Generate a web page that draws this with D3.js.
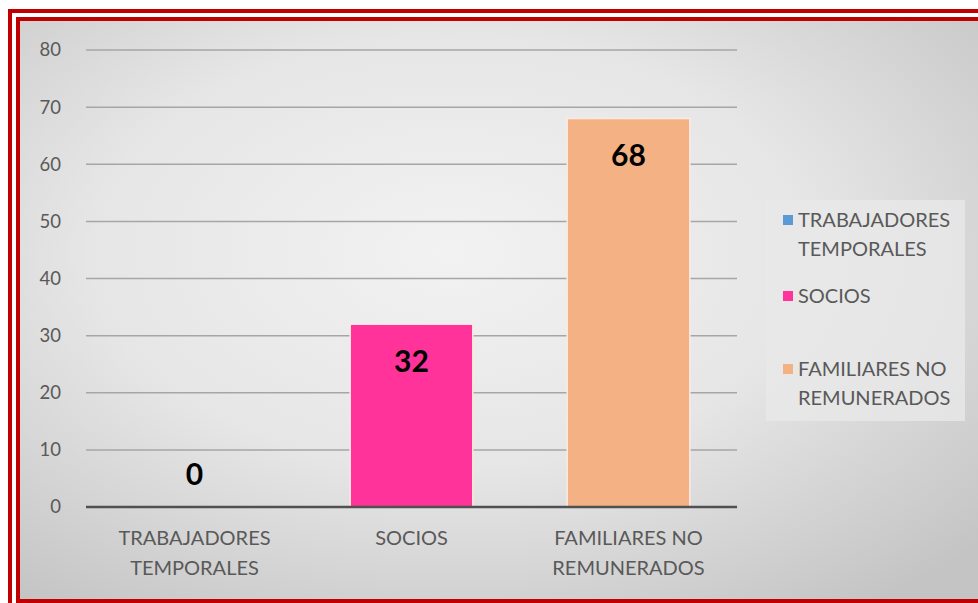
<!DOCTYPE html>
<html><head><meta charset="utf-8">
<script src="https://cdn.jsdelivr.net/npm/d3@7"></script>
<style>body{margin:0;background:#fff;}svg{display:block;}</style>
</head><body>
<svg id="c" width="978" height="603"></svg>
<script>
const categories = ["TRABAJADORES TEMPORALES", "SOCIOS", "FAMILIARES NO REMUNERADOS"];
const catLines = [["TRABAJADORES","TEMPORALES"],["SOCIOS"],["FAMILIARES NO","REMUNERADOS"]];
const values = [0, 32, 68];
const colors = ["#5B9BD5", "#FF3399", "#F4B183"];
const yTicks = [0,10,20,30,40,50,60,70,80];
const legendLines = [["TRABAJADORES","TEMPORALES"],["SOCIOS"],["FAMILIARES NO","REMUNERADOS"]];

const svg = d3.select("#c");
const font = "Lato, 'Open Sans', sans-serif";
const defs = svg.append("defs");
const rg = defs.append("radialGradient").attr("id","bg").attr("cx","0.45").attr("cy","0.4").attr("r","0.75");
rg.append("stop").attr("offset","0").attr("stop-color","#f2f2f2");
rg.append("stop").attr("offset","0.5").attr("stop-color","#e6e6e6");
rg.append("stop").attr("offset","1").attr("stop-color","#c4c4c4");

svg.append("rect").attr("x",20).attr("y",21).attr("width",958).attr("height",578).attr("fill","url(#bg)");
svg.append("path").attr("d","M10,603 V11 H978").attr("fill","none").attr("stroke","#C00000").attr("stroke-width",4);
svg.append("path").attr("d","M18,603 V19 H978 M18,601 H978").attr("fill","none").attr("stroke","#C00000").attr("stroke-width",4);

const x = d3.scaleBand().domain(categories).range([86,737]).paddingInner(0.435).paddingOuter(0.2175);
const y = d3.scaleLinear().domain([0,80]).range([507,50]);

svg.append("g").selectAll("line").data(yTicks.filter(d=>d>0)).join("line")
  .attr("x1",86).attr("x2",737).attr("y1",d=>y(d)).attr("y2",d=>y(d))
  .attr("stroke","#a6a6a6").attr("stroke-width",1.5);

svg.append("g").selectAll("text").data(yTicks).join("text")
  .attr("x",61).attr("y",d=>y(d)).attr("dy","0.35em").attr("text-anchor","end")
  .attr("font-family",font).attr("font-size",18.5).attr("fill","#595959").text(d=>d);

svg.append("g").selectAll("rect").data(values).join("rect")
  .attr("x",(d,i)=>x(categories[i])).attr("width",x.bandwidth())
  .attr("y",d=>y(d)).attr("height",d=>y(0)-y(d))
  .attr("fill",(d,i)=>colors[i]).attr("stroke","#fde9e0").attr("stroke-width",1.5);

svg.append("line").attr("x1",86).attr("x2",737).attr("y1",y(0)).attr("y2",y(0))
  .attr("stroke","#505050").attr("stroke-width",2.5);

svg.append("g").selectAll("text").data(values).join("text")
  .attr("x",(d,i)=>x(categories[i])+x.bandwidth()/2)
  .attr("y",d=>d===0 ? y(0)-33 : y(d)+37)
  .attr("dy","0.35em")
  .attr("text-anchor","middle").attr("font-family",font).attr("font-weight","bold")
  .attr("font-size",30).attr("fill","#000").text(d=>d);

const cg = svg.append("g");
catLines.forEach((lines,i)=>{
  lines.forEach((t,j)=>{
    cg.append("text").attr("x",x(categories[i])+x.bandwidth()/2).attr("y",538+j*30).attr("dy","0.35em")
      .attr("text-anchor","middle").attr("font-family",font).attr("font-size",20)
      .attr("fill","#595959").text(t);
  });
});

svg.append("rect").attr("x",766).attr("y",200).attr("width",199).attr("height",221)
  .attr("fill","#e8e8e8").attr("opacity",0.8);
const legY = [220, 296, 369];
const lg = svg.append("g");
legendLines.forEach((lines,i)=>{
  lg.append("rect").attr("x",783).attr("y",legY[i]-5).attr("width",10).attr("height",10).attr("fill",colors[i]);
  lines.forEach((t,j)=>{
    lg.append("text").attr("x",798).attr("y",legY[i]+j*29).attr("dy","0.35em")
      .attr("font-family",font).attr("font-size",20).attr("fill","#595959").text(t);
  });
});
</script>
</body></html>
